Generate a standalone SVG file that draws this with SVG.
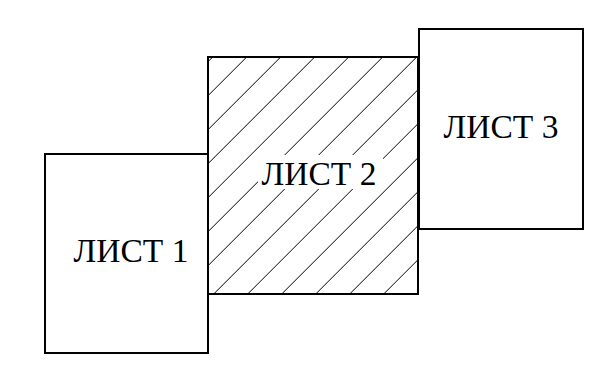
<svg xmlns="http://www.w3.org/2000/svg" width="595" height="368" viewBox="0 0 595 368">
<style>
.sheet{fill:#fff;stroke:#000;stroke-width:2}
.hatch{stroke:#000;stroke-width:1;fill:none}
.lbl{font-family:"Liberation Serif","Times New Roman",serif;font-size:33.5px;fill:#000;text-anchor:middle}
</style>
<defs>
<clipPath id="c2"><rect x="208" y="57" width="210" height="237"/></clipPath>
</defs>
<rect width="595" height="368" fill="#fff"/>
<g id="sheet1">
<rect class="sheet" x="45" y="154" width="163" height="199"/>
<text class="lbl" x="131" y="262">ЛИСТ 1</text>
</g>
<g id="sheet3">
<rect class="sheet" x="419" y="29" width="164" height="200"/>
<text class="lbl" x="501" y="138">ЛИСТ 3</text>
</g>
<g id="sheet2">
<rect class="sheet" x="208" y="57" width="210" height="237"/>
<g clip-path="url(#c2)" class="hatch">
<path d="M0 269.7L269.7 0M0 303.7L303.7 0M0 337.7L337.7 0M0 371.7L371.7 0M0 405.7L405.7 0M0 439.7L439.7 0M0 473.7L473.7 0M0 507.7L507.7 0M0 541.7L541.7 0M0 575.7L575.7 0M0 609.7L609.7 0M0 643.7L643.7 0M0 677.7L677.7 0M0 711.7L711.7 0"/>
</g>
<rect x="258" y="155" width="125" height="34" fill="#fff"/>
<rect x="208" y="57" width="210" height="237" fill="none" stroke="#000" stroke-width="2"/>
<text class="lbl" x="319" y="185">ЛИСТ 2</text>
</g>
</svg>
